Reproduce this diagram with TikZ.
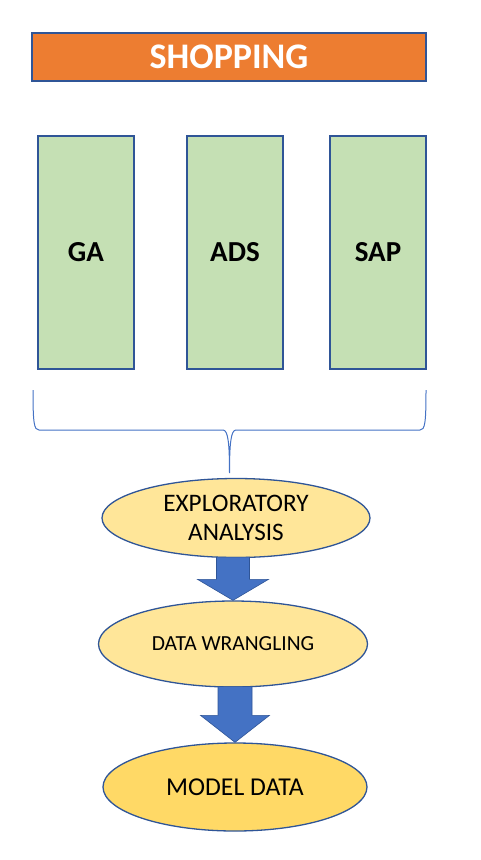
\documentclass[tikz,border=0pt]{standalone}
\usepackage{fontspec}
\setmainfont{Carlito}
\usetikzlibrary{shapes.geometric,calc}

\definecolor{bannerorange}{HTML}{ED7D31}
\definecolor{edgeblue}{HTML}{2F5597}
\definecolor{sourcegreen}{HTML}{C5E0B4}
\definecolor{stageyellow}{HTML}{FFE699}
\definecolor{stagegold}{HTML}{FFD966}
\definecolor{flowblue}{HTML}{4472C4}

\tikzset{
  banner/.style={draw=edgeblue, line width=1.5pt, fill=bannerorange, text=white,
    minimum width=394pt, minimum height=48pt, inner sep=0pt,
    font=\fontsize{36}{40}\selectfont\bfseries},
  srcbox/.style={draw=edgeblue, line width=1.5pt, fill=sourcegreen,
    minimum width=96pt, minimum height=233pt, inner sep=0pt,
    font=\fontsize{29}{32}\selectfont\bfseries},
  stage/.style={ellipse, draw=edgeblue, line width=1.3pt, fill=stageyellow,
    inner sep=0pt, align=center},
  bracket/.style={draw=flowblue, line width=1pt},
  flow/.style={draw=edgeblue, line width=0.6pt, fill=flowblue}
}

\begin{document}
\begin{tikzpicture}[x=1pt, y=-1pt]
    \useasboundingbox (0,0) rectangle (481,860);
    % title bar
    \node[banner] (shop) at (229,57) {SHOPPING};
    % data sources
    \node[srcbox] (ga)  at (86,252.5)  {GA};
    \node[srcbox] (ads) at (235,252.5) {ADS};
    \node[srcbox] (sap) at (378,252.5) {SAP};
    % brace gathering the sources
    \coordinate (braceL) at (33,390);
    \coordinate (braceR) at (426,390);
    \coordinate (braceTip) at (229.5,473);
    \draw[bracket] (braceL) .. controls +(0,33) and +(-5,0) .. (39,430)
        -- (223,430) .. controls +(5,0) and +(0,-30) .. (braceTip)
        .. controls +(0,-30) and +(-5,0) .. (236,430)
        -- (420,430) .. controls +(5,0) and +(0,33) .. (braceR);
    % processing stages
    \node[stage, minimum width=268pt, minimum height=79pt,
          font=\fontsize{25.2}{29}\selectfont] (explore) at (236,518)
          {EXPLORATORY\\ANALYSIS};
    \node[stage, minimum width=269pt, minimum height=86pt,
          font=\fontsize{21.5}{24}\selectfont] (wrangle) at (233,644)
          {DATA WRANGLING};
    \node[stage, fill=stagegold, minimum width=264pt, minimum height=88pt,
          font=\fontsize{25.7}{28}\selectfont] (model) at (235,787)
          {MODEL DATA};
    % block arrows between stages
    \draw[flow] let \p1=(explore.south), \p2=(wrangle.north) in
        (\x2-16.5pt,\y1+1pt) -- (\x2-16.5pt,\y2+21pt) -- (\x2-35.5pt,\y2+21pt)
        -- (\x2,\y2) -- (\x2+35.5pt,\y2+21pt) -- (\x2+16.5pt,\y2+21pt)
        -- (\x2+16.5pt,\y1+1pt) -- cycle;
    \draw[flow] let \p1=(wrangle.south), \p2=(model.north) in
        (\x2-17pt,\y1+1pt) -- (\x2-17pt,\y2+27pt) -- (\x2-34.5pt,\y2+27pt)
        -- (\x2,\y2) -- (\x2+34.5pt,\y2+27pt) -- (\x2+17pt,\y2+27pt)
        -- (\x2+17pt,\y1+1pt) -- cycle;
\end{tikzpicture}
\end{document}
